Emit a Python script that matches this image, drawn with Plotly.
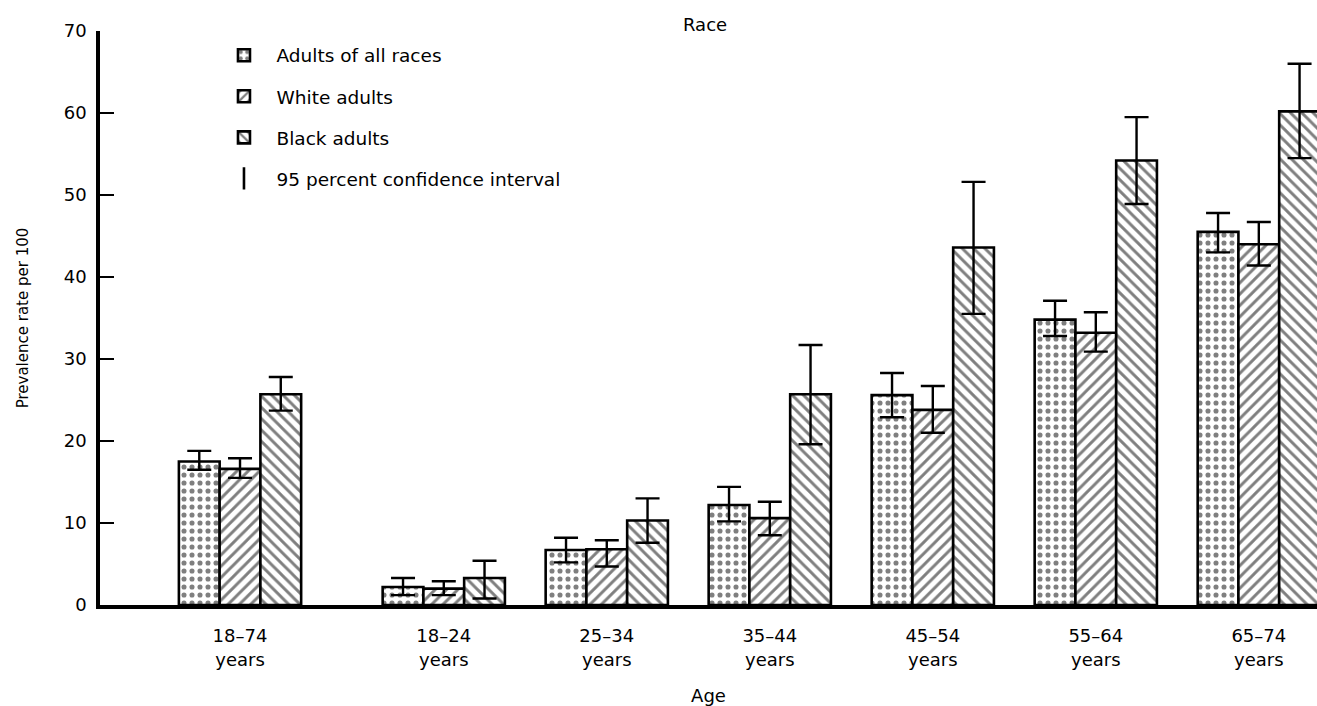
import plotly.graph_objects as go

# ---- data ----
age_labels = ["18\u201374<br>years", "18\u201324<br>years", "25\u201334<br>years",
              "35\u201344<br>years", "45\u201354<br>years", "55\u201364<br>years",
              "65\u201374<br>years"]

all_races = [17.5, 2.2, 6.7, 12.2, 25.6, 34.8, 45.5]
all_lo    = [16.5, 1.2, 5.2, 10.2, 22.9, 32.8, 43.0]
all_hi    = [18.8, 3.3, 8.2, 14.4, 28.3, 37.1, 47.8]

white     = [16.6, 2.0, 6.8, 10.6, 23.8, 33.2, 44.0]
white_lo  = [15.5, 1.2, 4.7, 8.5, 21.0, 30.9, 41.4]
white_hi  = [17.9, 2.9, 7.9, 12.6, 26.7, 35.7, 46.7]

black     = [25.7, 3.3, 10.3, 25.7, 43.6, 54.2, 60.2]
black_lo  = [23.7, 0.8, 7.6, 19.6, 35.5, 48.9, 54.5]
black_hi  = [27.8, 5.4, 13.0, 31.7, 51.6, 59.5, 66.0]

# ---- layout helpers (positions/styles) ----
group_pos = [0, 1.25, 2.25, 3.25, 4.25, 5.25, 6.25]
bar_w = 0.25
FONT = "DejaVu Sans, Verdana, sans-serif"

def err(vals, lo, hi):
    return dict(type="data", symmetric=False,
                array=[h - v for v, h in zip(vals, hi)],
                arrayminus=[v - l for v, l in zip(vals, lo)],
                color="black", thickness=2.4, width=12)

series = [
    ("Adults of all races", all_races, all_lo, all_hi, ".", 8, 0.32, -1.5),
    ("White adults", white, white_lo, white_hi, "/", 8, 0.36, -0.5),
    ("Black adults", black, black_lo, black_hi, "\\", 8, 0.36, 0.5),
]

fig = go.Figure()
for i, (name, vals, lo, hi, shape, size, sol, off) in enumerate(series):
    fig.add_trace(go.Bar(
        x=group_pos, y=vals, name=name, width=bar_w, offset=off * bar_w,
        marker=dict(color="white",
                    line=dict(color="black", width=2.6),
                    pattern=dict(shape=shape, fgcolor="black", bgcolor="white",
                                 size=size, solidity=sol, fillmode="overlay")),
        error_y=err(vals, lo, hi),
        legendgroup=f"g{i}",
    ))

# legend-only entry for the confidence interval
fig.add_trace(go.Scatter(
    x=[None], y=[None], mode="markers", name="95 percent confidence interval",
    marker=dict(symbol="line-ns", size=24, line=dict(color="black", width=2.6)),
    legendgroup="g3",
))

fig.update_layout(
    width=1317, height=706,
    margin=dict(l=100, r=0, t=31, b=101),
    paper_bgcolor="white", plot_bgcolor="white",
    barmode="overlay",
    font=dict(family=FONT, size=16, color="black"),
    showlegend=True,
    legend=dict(x=0.0916, y=0.99, xanchor="left", yanchor="top",
                traceorder="grouped", tracegroupgap=14,
                font=dict(size=18.5, family=FONT), bgcolor="rgba(0,0,0,0)",
                itemwidth=55),
    annotations=[dict(text="Race", xref="paper", yref="paper", x=0.497, y=1.012,
                      xanchor="center", yanchor="middle", showarrow=False,
                      font=dict(size=18, family=FONT))],
)

fig.update_xaxes(
    range=[-0.859, 6.607], tickmode="array", tickvals=group_pos, ticktext=age_labels,
    showline=True, linecolor="black", linewidth=3.5, ticks="", showgrid=False,
    zeroline=False, tickfont=dict(size=18, family=FONT), ticklabelstandoff=12,
    title=dict(text="Age", font=dict(size=18, family=FONT), standoff=24),
)
fig.update_yaxes(
    range=[0, 70], tickmode="array", tickvals=list(range(0, 71, 10)),
    showline=True, linecolor="black", linewidth=3.5, ticks="inside", ticklen=14,
    tickwidth=2, tickcolor="black", showgrid=False, zeroline=False,
    tickfont=dict(size=18, family=FONT), ticklabelstandoff=6,
    title=dict(text="Prevalence rate per 100", font=dict(size=15, family=FONT), standoff=32),
)

fig.write_html("out.html")
